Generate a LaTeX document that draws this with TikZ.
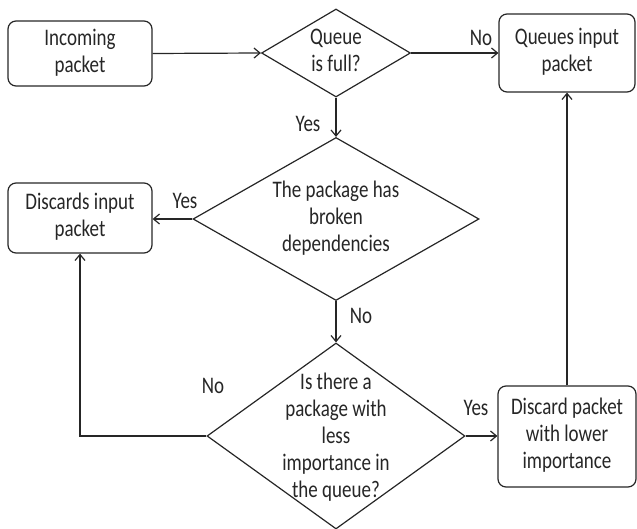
\documentclass[tikz,border=0pt]{standalone}
\usepackage{fontspec}
\usepackage{graphicx}
\setmainfont{Carlito}
\usetikzlibrary{shapes.geometric,arrows.meta}
\newcommand{\stx}[1]{\scalebox{1}[1.25]{\begin{tabular}{@{}c@{}}#1\end{tabular}}}
\begin{document}
\begin{tikzpicture}[x=1pt,y=-1pt,
  every node/.style={font=\fontsize{19}{21.6}\selectfont, text=black!85},
  line/.style={draw=black!85, line width=1.2pt},
  box/.style={line, rounded corners=8pt, align=center, inner sep=0pt},
  dia/.style={line, diamond, inner sep=0pt},
  txt/.style={align=center, inner sep=0pt},
  arr/.style={line, -{Straight Barb[length=6pt,width=10pt]}},
  lbl/.style={inner sep=0pt}]
\useasboundingbox (0,0) rectangle (637,529);
% boxes
\node[box, minimum width=144pt, minimum height=65pt] (inc) at (80,53.5) {\stx{Incoming\\packet}};
\node[box, minimum width=136pt, minimum height=78pt] (qin) at (567,53) {\stx{Queues input\\packet}};
\node[box, minimum width=144pt, minimum height=70pt] (dis) at (80,218) {\stx{Discards input\\packet}};
\node[box, minimum width=138pt, minimum height=101pt] (dpk) at (567,436.5) {\stx{Discard packet\\with lower\\importance}};
% diamonds
\node[dia, minimum width=149pt, minimum height=88pt] (d1) at (336,53) {};
\node[txt] (t1) at (d1.center) {\stx{Queue\\is full?}};
\node[dia, minimum width=286pt, minimum height=163pt] (d2) at (336,219) {};
\node[txt] (t2) at (d2.center) {\stx{The package has\\broken\\dependencies}};
\node[dia, minimum width=258pt, minimum height=186pt] (d3) at (336,436) {};
\node[txt] (t3) at (336,438) {\stx{Is there a\\package with\\less\\importance in\\the queue?}};
% connectors
\draw[arr] (inc.east) -- (d1.west);
\draw[arr] (d1.east) -- (qin.west);
\draw[arr] (d1.south) -- (d2.north);
\draw[arr] (d2.west) -- (d2.west -| dis.east);
\draw[arr] (d2.south) -- (d3.north);
\draw[arr] (d3.west) -| (dis.south);
\draw[arr] (d3.east) -- (d3.east -| dpk.west);
\draw[arr] (dpk.north) -- (qin.south);
% labels
\node[lbl] (l1) at (481,40) {\stx{No}};
\node[lbl] (l2) at (308,126) {\stx{Yes}};
\node[lbl] (l3) at (185,203) {\stx{Yes}};
\node[lbl] (l4) at (361,318) {\stx{No}};
\node[lbl] (l5) at (213,388) {\stx{No}};
\node[lbl] (l6) at (476,410) {\stx{Yes}};
\end{tikzpicture}
\end{document}
